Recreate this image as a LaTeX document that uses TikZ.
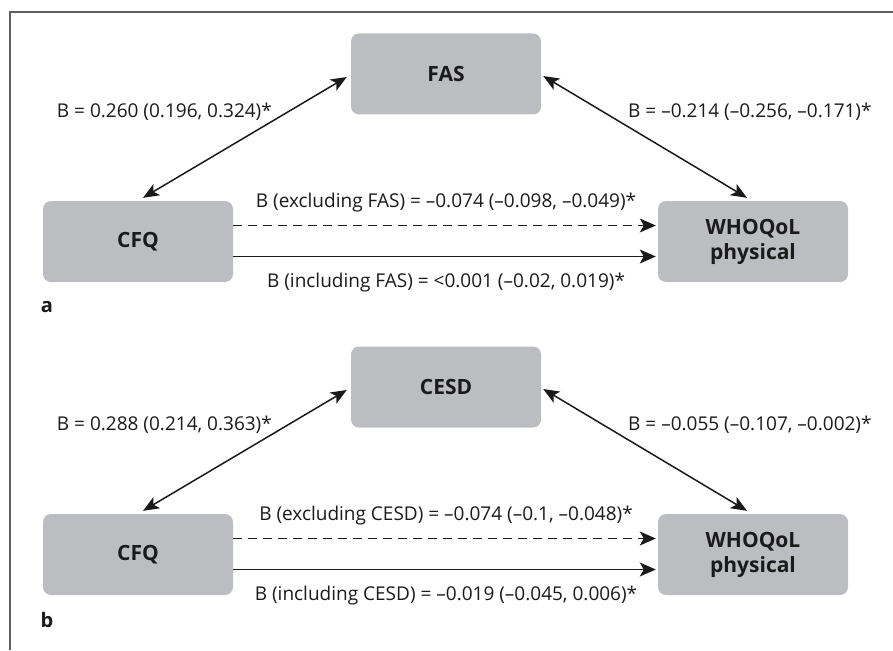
\documentclass[tikz,border=0pt]{standalone}
\usepackage{fontspec}
\setmainfont{Open Sans}
\usetikzlibrary{arrows.meta,calc}
\definecolor{boxgray}{HTML}{BCBDC0}
\definecolor{framegray}{HTML}{5E5E5E}
\definecolor{ink}{HTML}{1A1A1A}
\begin{document}
\begin{tikzpicture}[x=1pt,y=-1pt,
  box/.style={fill=boxgray, rounded corners=8pt, minimum width=190pt, minimum height=81pt,
    inner sep=0pt, font=\fontsize{21}{25}\selectfont\bfseries, text=ink, align=center},
  lbl/.style={font=\fontsize{19}{22}\selectfont, text=ink, inner sep=0pt},
  panel/.style={font=\fontsize{20}{22}\selectfont\bfseries, text=ink, inner sep=0pt},
  conn/.style={draw=ink, line width=1.5pt, -{Stealth[length=16pt,width=14pt,inset=4pt]}},
  both/.style={draw=ink, line width=1.5pt, {Stealth[length=16pt,width=13pt,inset=4pt]}-{Stealth[length=16pt,width=13pt,inset=4pt]}},
  dashline/.style={dash pattern=on 9pt off 6pt}
  ]
\useasboundingbox (0,0) rectangle (893,650);
\draw[framegray, line width=2pt] (10,650) -- (10,12) -- (893,12);

% panel a
\node[box] (fasA) at (446,74) {FAS};
\node[box] (cfqA) at (138,241.5) {CFQ};
\node[box] (whoA) at (753,241.5) {WHOQoL\\physical};
\draw[both] ([xshift=5pt,yshift=3pt]cfqA.north) -- ([xshift=-4pt,yshift=-3pt]fasA.west);
\draw[both] ([xshift=2pt,yshift=-2pt]fasA.east) -- ([xshift=-6pt,yshift=3pt]whoA.north);
\draw[conn,dashline] ([yshift=16pt]cfqA.east) -- ([xshift=-2pt,yshift=16pt]whoA.west);
\draw[conn] ([yshift=-15pt]cfqA.east) -- ([xshift=-2pt,yshift=-15pt]whoA.west);
\node[lbl, anchor=east] (la1) at (272,112) {B = 0.260 (0.196, 0.324)*};
\node[lbl, anchor=west] (la2) at (628,112) {B = –0.214 (–0.256, –0.171)*};
\node[lbl] (la3) at (446,203) {B (excluding FAS) = –0.074 (–0.098, –0.049)*};
\node[lbl] (la4) at (446,283) {B (including FAS) = <0.001 (–0.02, 0.019)*};
\node[panel] (pa) at (47,307) {a};

% panel b
\node[box] (fasB) at (446,387) {CESD};
\node[box] (cfqB) at (138,554.5) {CFQ};
\node[box] (whoB) at (753,554.5) {WHOQoL\\physical};
\draw[both] ([xshift=5pt,yshift=3pt]cfqB.north) -- ([xshift=-4pt,yshift=-3pt]fasB.west);
\draw[both] ([xshift=2pt,yshift=-2pt]fasB.east) -- ([xshift=-6pt,yshift=3pt]whoB.north);
\draw[conn,dashline] ([yshift=16pt]cfqB.east) -- ([xshift=-2pt,yshift=16pt]whoB.west);
\draw[conn] ([yshift=-15pt]cfqB.east) -- ([xshift=-2pt,yshift=-15pt]whoB.west);
\node[lbl, anchor=east] (lb1) at (272,425) {B = 0.288 (0.214, 0.363)*};
\node[lbl, anchor=west] (lb2) at (628,425) {B = –0.055 (–0.107, –0.002)*};
\node[lbl] (lb3) at (446,516) {B (excluding CESD) = –0.074 (–0.1, –0.048)*};
\node[lbl] (lb4) at (446,596) {B (including CESD) = –0.019 (–0.045, 0.006)*};
\node[panel] (pb) at (47,620) {b};
\end{tikzpicture}
\end{document}
